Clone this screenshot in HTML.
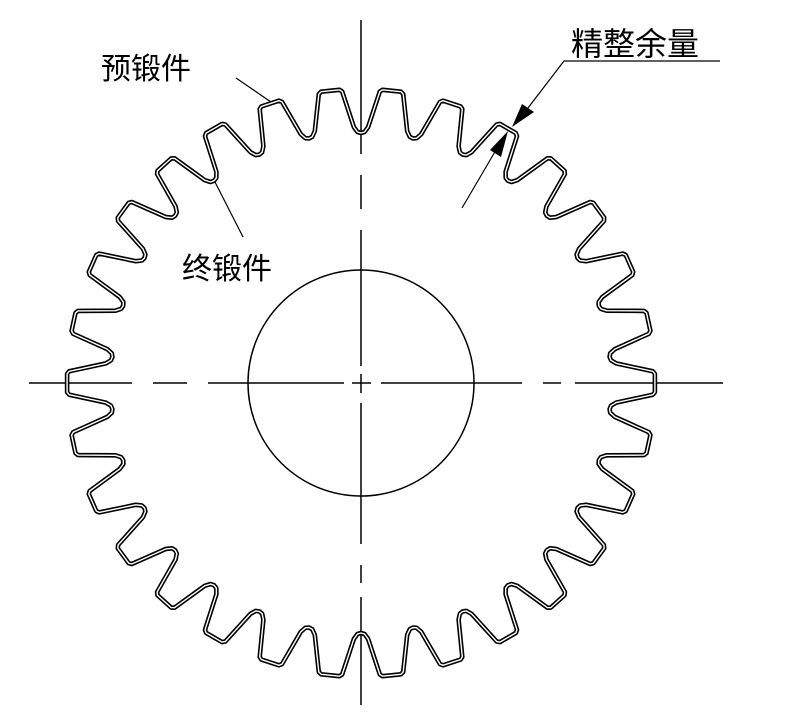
<!DOCTYPE html>
<html><head><meta charset="utf-8"><style>
html,body{margin:0;padding:0;background:#fff;}
svg{display:block;}
text{font-family:"Liberation Sans","Noto Sans CJK SC",sans-serif;font-size:30px;fill:#000;}
</style></head><body>
<svg id="s" width="785" height="715" viewBox="0 0 785 715" xmlns="http://www.w3.org/2000/svg">
<g stroke="#000" stroke-width="1.5" fill="none">
<path id="hl" d=""/>
<path id="vl" d=""/>
<circle cx="361" cy="383" r="113"/>
</g>
<path id="g1" d="" fill="none" stroke="#000" stroke-width="4.6" stroke-linejoin="round"/>
<path id="g2" d="" fill="none" stroke="#fff" stroke-width="1.4" stroke-linejoin="round"/>
<g stroke="#000" stroke-width="1.2" fill="none">
<line x1="236" y1="78" x2="271" y2="102"/>
<line x1="215" y1="182" x2="243" y2="237"/>
<polyline points="720,61 564,61 518,121"/>
<line x1="462" y1="208" x2="496" y2="150"/>
</g>
<polygon points="512,127 522,104 534,112" fill="#000"/>
<polygon points="508,131 490,150 501,157" fill="#000"/>
<text x="101" y="79">预锻件</text>
<text x="182" y="279">终锻件</text>
<text x="571" y="55" style="font-size:32px">精整余量</text>
</svg>
<script>
var cx=361,cy=383;
var segs=[[-332,-229],[-208,-174],[-153,-17],[-9,10],[20,161],[182,200],[214,362]];
var h="",v="";
segs.forEach(function(s){h+="M"+(cx+s[0])+" "+cy+"H"+(cx+s[1]);});
var vs=[[-363,-229],[-208,-174],[-153,-17],[-9,10],[20,161],[182,200],[214,322]];
vs.forEach(function(s){v+="M"+cx+" "+(cy+s[0])+"V"+(cy+s[1]);});
document.getElementById("hl").setAttribute("d",h);
document.getElementById("vl").setAttribute("d",v);
var R=294,r=252,d="",pts=[];
function P(a,rr){var t=a*Math.PI/180;return (cx+rr*Math.cos(t)).toFixed(1)+" "+(cy-rr*Math.sin(t)).toFixed(1);}
for(var k=0;k<30;k++){
 var c=96+12*k;
 pts.push(P(c-5.2,r-1));
 pts.push(P(c-4.4,r+4));
 pts.push(P(c-2.3,R-2));
 pts.push(P(c-1.8,R));
 pts.push(P(c+1.8,R));
 pts.push(P(c+2.3,R-2));
 pts.push(P(c+4.4,r+4));
 pts.push(P(c+5.2,r-1));
 pts.push(P(c+6,r-2));
}
d="M"+pts.join("L")+"Z";
document.getElementById("g1").setAttribute("d",d);
document.getElementById("g2").setAttribute("d",d);
</script>
</body></html>
